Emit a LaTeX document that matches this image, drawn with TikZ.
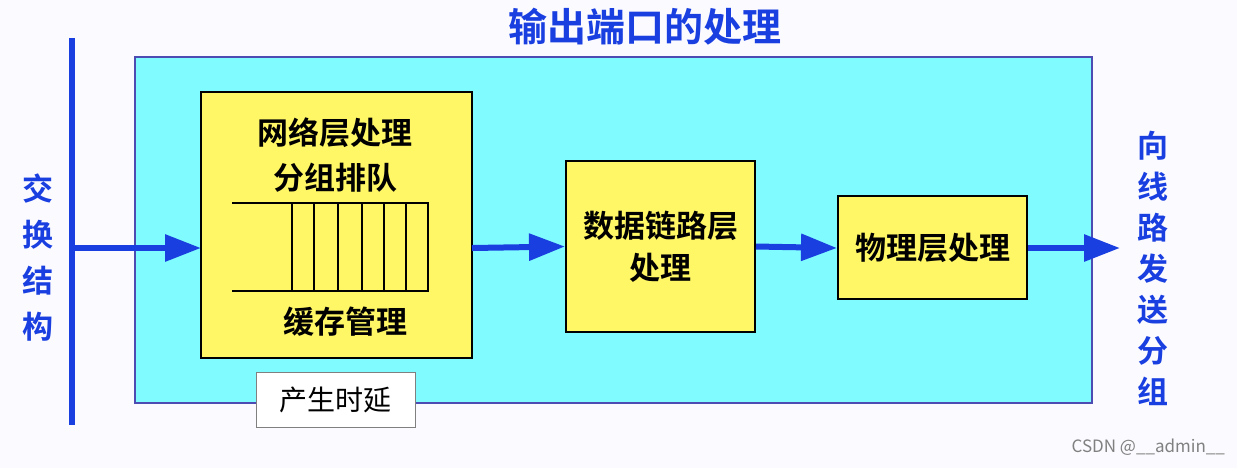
\documentclass[tikz,border=0pt]{standalone}
\usepackage{fontspec}
\setmainfont{Noto Sans CJK SC}
\newfontfamily\cjkb{Noto Sans CJK SC Bold}
\usetikzlibrary{arrows.meta}
\definecolor{tblue}{HTML}{1A3FE0}
\definecolor{cyanbg}{HTML}{80FBFF}
\definecolor{ybox}{HTML}{FFF766}
\tikzset{x=0.5pt,y=-0.5pt,
 ybx/.style={draw=black,line width=1pt,fill=ybox},
 arr/.style={draw=tblue,line width=3pt,-{Triangle[length=18pt,width=13pt]}},
 btxt/.style={font=\cjkb\fontsize{15.5}{21}\selectfont,align=center}}
\begin{document}
\begin{tikzpicture}
\fill[white!93!blue!30] (0,0) rectangle (1237,468);
\useasboundingbox (0,0) rectangle (1237,468);
\node[font=\cjkb\fontsize{19.5}{22}\selectfont,text=tblue] (title) at (645,27) {输出端口的处理};
\draw[tblue,line width=3pt] (72,38) coordinate (ltop) -- (72,425) coordinate (lbot);
\coordinate (lin) at (72,248);
\node[align=center,text=tblue,font=\cjkb\fontsize{15.5}{23}\selectfont] (left) at (38,258) {交\\换\\结\\构};
\node[align=center,text=tblue,font=\cjkb\fontsize{15.5}{20.5}\selectfont] (right) at (1153,268) {向\\线\\路\\发\\送\\分\\组};
\draw[draw=gray!60!blue,fill=cyanbg,line width=1pt] (135,57) rectangle (1092,403);
\draw[ybx] (201,92) rectangle (472,358);
\node[btxt] (t1) at (335,133) {网络层处理};
\node[btxt] (t2) at (335,178) {分组排队};
\node[btxt] (t3) at (345,322) {缓存管理};
\draw[line width=0.8pt] (232,203) -- (428,203) -- (428,291) -- (232,291);
\foreach \x in {292,314,338,362,384,406} \draw[line width=0.6pt] (\x,203) -- (\x,291);
\node[draw=gray,fill=white,minimum width=79.5pt,minimum height=27.5pt,font=\fontsize{14}{16}\selectfont] (delay) at (335.5,399.5) {产生时延};
\node[ybx,minimum width=94.5pt,minimum height=85.5pt,btxt,align=center] (b2) at (660.5,246.5) {数据链路层\\处理};
\node[ybx,minimum width=94.5pt,minimum height=51.5pt,btxt,inner xsep=0pt] (b3) at (932.5,247.5) {物理层处理};
\coordinate (out) at (1120,248);
\draw[arr] (lin) -- (201,248);
\draw[arr] (472,248) -- (b2.west);
\draw[arr] (b2.east) -- (b3.west |- 0,248);
\draw[arr] (b3.east |- 0,248) -- (out);
\node[text=gray,font=\fontsize{8.5}{10}\selectfont,anchor=east] (wm) at (1232,447) {CSDN @\_\_admin\_\_};
\end{tikzpicture}
\end{document}
